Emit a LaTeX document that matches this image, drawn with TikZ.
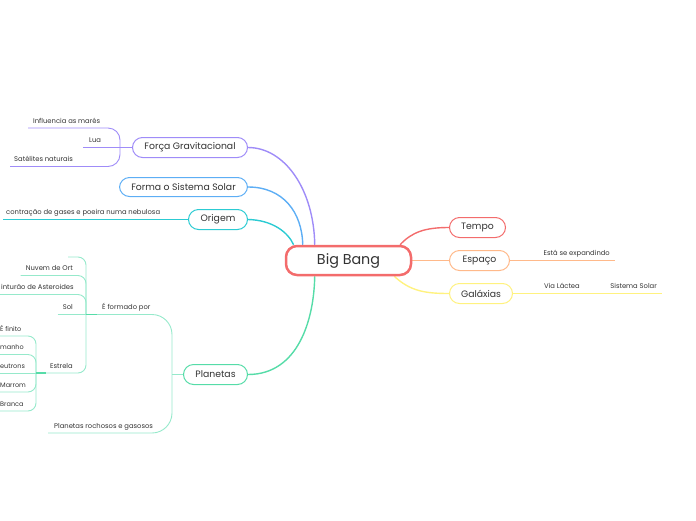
\documentclass[tikz,border=0pt]{standalone}
\usepackage{fontspec}
\setmainfont{Poppins}
\usetikzlibrary{backgrounds}
\definecolor{txt}{HTML}{333333}
\definecolor{cred}{HTML}{F36C6C}
\definecolor{corange}{HTML}{FFB98A}
\definecolor{cyellow}{HTML}{FFF27F}
\definecolor{cpurple}{HTML}{9F8CF8}
\definecolor{cblue}{HTML}{5DAEF5}
\definecolor{ccyan}{HTML}{2CCBD3}
\definecolor{cgreen}{HTML}{56DCA8}
\definecolor{cgreenl}{HTML}{96E9CB}
\tikzset{
 topic/.style={draw, fill=white, rounded corners=10pt, line width=1pt, inner sep=0pt, text=txt, font=\fontsize{9.3}{11}\selectfont},
 leaf/.style={inner xsep=5pt, inner ysep=4.5pt, text depth=0pt, text=txt, font=\fontsize{6.8}{8}\selectfont},
 edgeleaf/.style={leaf, anchor=south west, inner xsep=0pt, font=\fontsize{6.5}{8}\selectfont},
 conn/.style={line width=1.4pt},
 lline/.style={line width=0.9pt},
}
\begin{document}
\begin{tikzpicture}[x=1pt,y=-1pt]
\useasboundingbox (0,0) rectangle (696,520);
% main topics
\node[topic, draw=cred, line width=2.5pt, rounded corners=11pt, minimum width=125pt, minimum height=29pt, font=\fontsize{14.3}{16}\selectfont] (bb) at (348.5,260.5) {Big Bang};
\node[topic, draw=cred, minimum width=56pt, minimum height=20pt] (tempo) at (477.5,227.5) {Tempo};
\node[topic, draw=corange, minimum width=60pt, minimum height=20pt] (espaco) at (479.5,260.5) {Espaço};
\node[topic, draw=cyellow, minimum width=63pt, minimum height=20pt] (galaxias) at (481,293.5) {Galáxias};
\node[topic, draw=cpurple, minimum width=115pt, minimum height=20pt] (forca) at (190,147.5) {Força Gravitacional};
\node[topic, draw=cblue, minimum width=128pt, minimum height=19pt] (forma) at (183.5,187) {Forma o Sistema Solar};
\node[topic, draw=ccyan, minimum width=59pt, minimum height=20pt] (origem) at (218,219.5) {Origem};
\node[topic, draw=cgreen, minimum width=64pt, minimum height=20pt] (planetas) at (215.5,374.5) {Planetas};
% leaves right
\node[leaf, anchor=south east] (expand) at (615,260.5) {Está se expandindo};
\node[leaf, anchor=south east] (via) at (585,293.5) {Via Láctea};
\node[leaf, anchor=south east] (sissol) at (662,293.5) {Sistema Solar};
% leaves Forca
\coordinate (fb) at (120,147.5);
\node[leaf, anchor=south west] (mares) at (28,128) {Influencia as marés};
\node[leaf, anchor=south west, inner xsep=6pt] (lua) at (83,147.5) {Lua};
\node[leaf, anchor=south west, inner xsep=4pt] (satel) at (10,166.5) {Satélites naturais};
% leaf Origem
\node[leaf, anchor=south west, inner xsep=3pt] (contr) at (3,219.5) {contração de gases e poeira numa nebulosa};
% Planetas subtree
\coordinate (pb) at (172,374.5);
\coordinate (efb) at (86,314.5);
\node[leaf, anchor=south west] (formado) at (97,314.5) {É formado por};
\node[leaf, anchor=south west, inner xsep=6pt] (rochosos) at (48,433) {Planetas rochosos e gasosos};
\coordinate (blank) at (68,257);
\node[leaf, anchor=south east] (nuvem) at (78,275.5) {Nuvem de Ort};
\node[leaf, anchor=south west, inner xsep=1pt] (cint) at (0,294.5) {inturão de Asteroides};
\node[leaf, anchor=south east] (sol) at (78,314.5) {Sol};
\node[leaf, anchor=south west, inner xsep=4pt] (estrela) at (46,373) {Estrela};
\coordinate (estb) at (36,373);
\node[edgeleaf] (finito) at (0,336) {É finito};
\node[edgeleaf] (tamanho) at (0,354.5) {manho};
\node[edgeleaf] (neutrons) at (0,373) {eutrons};
\node[edgeleaf] (marrom) at (0,392) {Marrom};
\node[edgeleaf] (branca) at (0,411) {Branca};
\begin{scope}[on background layer]
\draw[conn, cpurple] (forca.east) .. controls (285,147.5) and (314,190) .. (bb.155);
\draw[conn, cblue] (forma.east) .. controls (283,187) and (302,212) .. (bb.161);
\draw[conn, ccyan] (origem.east) .. controls (272,220) and (288,232) .. (bb.164);
\draw[conn, cgreen] (planetas.east) .. controls (298,374.5) and (314,320) .. (bb.205);
\draw[conn, cred] (bb.17) .. controls (412,232) and (425,227.5) .. (tempo.west);
\draw[conn, corange] (bb.east) -- (espaco.west);
\draw[conn, cyellow] (bb.-19) .. controls (410,291) and (425,293.5) .. (galaxias.west);
\draw[lline, corange] (espaco.east) -- (expand.south east);
\draw[lline, cyellow] (galaxias.east) -- (via.south east) -- (sissol.south east);
\draw[lline, cpurple, rounded corners=12pt] (mares.south west) -| (fb);
\draw[lline, cpurple] (lua.south west) -- (forca.west);
\draw[lline, cpurple, rounded corners=12pt] (satel.south west) -| (fb);
\draw[lline, ccyan] (contr.south west) -- (origem.west);
\draw[lline, cgreenl, rounded corners=20pt] (formado.south west) -| (pb);
\draw[lline, cgreenl, rounded corners=20pt] (rochosos.south west) -| (pb);
\draw[lline, cgreenl] (pb) -- (planetas.west);
\draw[lline, cgreenl, rounded corners=8pt] (blank) -| (efb);
\draw[lline, cgreenl, rounded corners=8pt] (nuvem.south west) -| (efb);
\draw[lline, cgreenl, rounded corners=8pt] (cint.south west) -| (efb);
\draw[lline, cgreenl] (sol.south west) -- (efb);
\draw[lline, cgreenl, rounded corners=8pt] (estrela.south west) -| (efb);
\draw[conn, cgreen] (efb) -- (formado.south west);
\draw[lline, cgreenl, rounded corners=8pt] (finito.south west) -| (estb);
\draw[lline, cgreenl, rounded corners=8pt] (tamanho.south west) -| (estb);
\draw[lline, cgreenl] (neutrons.south west) -- (estb);
\draw[lline, cgreenl, rounded corners=8pt] (marrom.south west) -| (estb);
\draw[lline, cgreenl, rounded corners=8pt] (branca.south west) -| (estb);
\draw[conn, cgreen] (estb) -- (estrela.south west);
\end{scope}
\end{tikzpicture}
\end{document}
